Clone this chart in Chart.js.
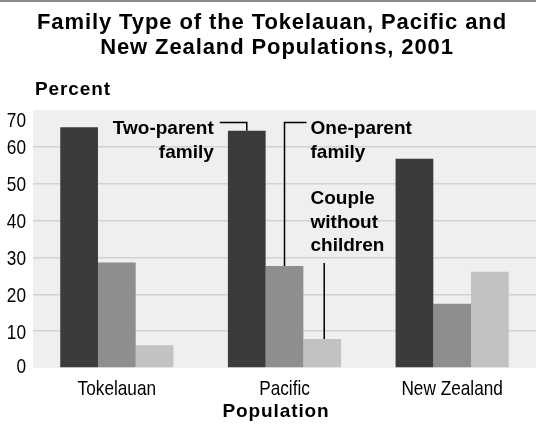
<!DOCTYPE html>
<html>
<head>
<meta charset="utf-8">
<script src="https://cdn.jsdelivr.net/npm/chart.js@4"></script>
<style>
  html, body { margin: 0; padding: 0; background: #fff; }
  #wrap { width: 536px; height: 427px; }
</style>
</head>
<body>
<div id="wrap"><canvas id="familyChart" width="536" height="427"></canvas></div>
<script>
// data
const populations = ['Tokelauan', 'Pacific', 'New Zealand'];
const twoParent = [65.3, 64.4, 56.8];
const oneParent = [28.6, 27.7, 17.4];
const coupleNoKids = [6.2, 7.9, 26.1];
const yTicks = [0, 10, 20, 30, 40, 50, 60, 70];
const titleLines = ['Family Type of the Tokelauan, Pacific and', 'New Zealand Populations, 2001'];

const sans = "'Liberation Sans', Arial, Helvetica, sans-serif";

// plot background + top rule
const backdrop = {
  id: 'backdrop',
  beforeDraw(chart) {
    const { ctx, chartArea: a } = chart;
    ctx.save();
    ctx.fillStyle = '#efefef';
    ctx.fillRect(a.left, a.top, a.right - a.left, a.bottom - a.top);
    ctx.fillStyle = '#8a8a8a';
    ctx.fillRect(0, 0, chart.width, 2);
    ctx.restore();
  }
};

// title, axis titles and tick labels (condensed, like the original)
const labels = {
  id: 'labels',
  afterDraw(chart) {
    const { ctx, chartArea: a } = chart;
    const xs = chart.scales.x, ys = chart.scales.y;
    ctx.save();
    ctx.fillStyle = '#000';
    ctx.textBaseline = 'alphabetic';

    ctx.font = 'bold 22px ' + sans;
    ctx.letterSpacing = '0.9px';
    ctx.textAlign = 'center';
    ctx.fillText(titleLines[0], 272, 28.5);
    ctx.fillText(titleLines[1], 277, 53.5);

    ctx.font = 'bold 19px ' + sans;
    ctx.letterSpacing = '0.9px';
    ctx.textAlign = 'left';
    ctx.fillText('Percent', a.left + 2, 95);
    ctx.textAlign = 'center';
    ctx.fillText('Population', 276, 417);
    ctx.letterSpacing = '0px';

    // narrow tick labels
    ctx.font = '21px ' + sans;
    const sx = 0.82;
    yTicks.forEach(v => {
      let y = ys.getPixelForValue(v) + 7.5;
      if (v === 70) y += 9.5;
      if (v === 0) y -= 2.5;
      ctx.save();
      ctx.translate(a.left - 7, y);
      ctx.scale(sx, 1);
      ctx.textAlign = 'right';
      ctx.fillText(String(v), 0, 0);
      ctx.restore();
    });
    populations.forEach((p, i) => {
      ctx.save();
      ctx.translate(xs.getPixelForValue(i), 395);
      ctx.scale(sx, 1);
      ctx.textAlign = 'center';
      ctx.fillText(p, 0, 0);
      ctx.restore();
    });
    ctx.restore();
  }
};

// series call-outs pointing at the Pacific bars
const callouts = {
  id: 'callouts',
  afterDatasetsDraw(chart) {
    const { ctx, chartArea: a } = chart;
    const bar = (ds, i) => chart.getDatasetMeta(ds).data[i];
    const dark = bar(0, 1), mid = bar(1, 1), light = bar(2, 1);

    ctx.save();
    ctx.fillStyle = '#000';
    ctx.font = 'bold 19px ' + sans;
    ctx.textBaseline = 'alphabetic';
    ctx.textAlign = 'right';
    ctx.fillText('Two-parent', dark.x - 33, a.top + 23.5);
    ctx.fillText('family', dark.x - 33, a.top + 47.5);

    ctx.textAlign = 'left';
    const tx = mid.x + 26;
    ctx.fillText('One-parent', tx, a.top + 23.5);
    ctx.fillText('family', tx, a.top + 47.5);
    ctx.fillText('Couple', tx, a.top + 93.5);
    ctx.fillText('without', tx, a.top + 117.5);
    ctx.fillText('children', tx, a.top + 141);

    ctx.strokeStyle = '#000';
    ctx.lineWidth = 1.5;
    ctx.beginPath();
    ctx.moveTo(dark.x - 27, a.top + 12.5);
    ctx.lineTo(dark.x, a.top + 12.5);
    ctx.lineTo(dark.x, dark.y);
    ctx.moveTo(tx - 4, a.top + 12.5);
    ctx.lineTo(mid.x, a.top + 12.5);
    ctx.lineTo(mid.x, mid.y);
    ctx.moveTo(light.x + 2, a.top + 153);
    ctx.lineTo(light.x + 2, light.y);
    ctx.stroke();
    ctx.restore();
  }
};

new Chart(document.getElementById('familyChart'), {
  type: 'bar',
  data: {
    labels: populations,
    datasets: [
      { label: 'Two-parent family', data: twoParent, backgroundColor: '#3b3b3b' },
      { label: 'One-parent family', data: oneParent, backgroundColor: '#8e8e8e' },
      { label: 'Couple without children', data: coupleNoKids, backgroundColor: '#c2c2c2' }
    ]
  },
  options: {
    responsive: false,
    animation: false,
    layout: { padding: { left: 0, right: 0, top: 110, bottom: 0 } },
    datasets: { bar: { categoryPercentage: 0.675, barPercentage: 1, borderWidth: 0 } },
    plugins: {
      legend: { display: false },
      tooltip: { enabled: false },
      title: { display: false }
    },
    scales: {
      x: {
        afterFit(scale) { scale.height = 59; },
        grid: { display: false, drawTicks: false },
        border: { display: false },
        ticks: { display: false }
      },
      y: {
        min: 0, max: 70,
        afterFit(scale) { scale.width = 33; },
        afterBuildTicks(scale) { scale.ticks = yTicks.map(v => ({ value: v })); },
        grid: {
          drawTicks: false,
          lineWidth: 1.5,
          color: c => (c.tick && (c.tick.value === 0 || c.tick.value === 70)) ? 'rgba(0,0,0,0)' : '#d2d2d2'
        },
        border: { display: false },
        ticks: { display: false }
      }
    }
  },
  plugins: [backdrop, labels, callouts]
});
</script>
</body>
</html>
